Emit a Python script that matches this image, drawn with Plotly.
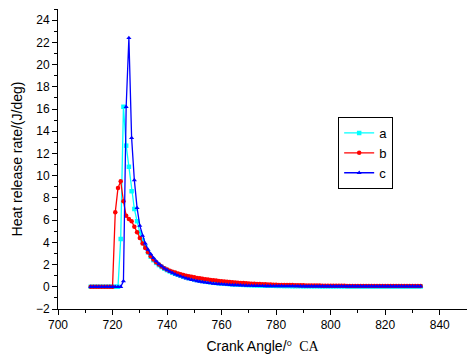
import plotly.graph_objects as go

crank_angle = list(range(712, 834))

series_a = [0]*11 + [
    4.3, 16.2, 12.7, 10.8, 8.6, 7.0, 5.9, 4.9, 4.2, 3.6,
    3.1, 2.7, 2.4, 2.15, 1.95, 1.78, 1.63, 1.5, 1.38, 1.27,
    1.17, 1.08, 1.0, 0.92, 0.85, 0.78, 0.72, 0.66, 0.61, 0.56,
    0.52, 0.48, 0.44, 0.41, 0.38, 0.35, 0.32, 0.30, 0.28, 0.26,
    0.24, 0.22, 0.21, 0.19, 0.18, 0.17, 0.16, 0.15, 0.14, 0.13,
    0.12, 0.11, 0.11, 0.10, 0.10, 0.09, 0.09, 0.08,
    0.08, 0.08, 0.07, 0.07, 0.07, 0.06, 0.06, 0.06, 0.06, 0.05,
    0.05, 0.05, 0.05, 0.05, 0.05, 0.04, 0.04, 0.04, 0.04, 0.04,
    0.04, 0.04, 0.04, 0.04, 0.04, 0.03, 0.03, 0.03, 0.03, 0.03,
    0.03, 0.03, 0.03, 0.03, 0.03, 0.03, 0.03, 0.03, 0.03, 0.03,
    0.03, 0.03, 0.03, 0.03, 0.03, 0.03, 0.03, 0.03, 0.03, 0.03,
    0.03, 0.03, 0.03,
]

series_b = [0]*9 + [
    6.7, 8.9, 9.5, 7.7, 6.4, 6.1, 5.9, 5.4, 4.9, 4.4,
    3.9, 3.5, 3.1, 2.75, 2.45, 2.2, 2.0, 1.82, 1.67, 1.55,
    1.45, 1.36, 1.28, 1.2, 1.13, 1.06, 1.0, 0.95, 0.9, 0.85,
    0.8, 0.76, 0.72, 0.68, 0.65, 0.62, 0.59, 0.56, 0.53, 0.5,
    0.48, 0.45, 0.43, 0.41, 0.39, 0.37, 0.35, 0.33, 0.31, 0.3,
    0.28, 0.27, 0.26, 0.24, 0.23, 0.22, 0.21, 0.2, 0.19, 0.18,
    0.17, 0.17, 0.16, 0.16, 0.15, 0.15, 0.14, 0.14, 0.13, 0.13,
    0.12, 0.12, 0.12, 0.11, 0.11, 0.11, 0.10, 0.10, 0.10, 0.10,
    0.09, 0.09, 0.09, 0.09, 0.09, 0.08, 0.08, 0.08, 0.08, 0.08,
    0.08, 0.08, 0.07, 0.07, 0.07, 0.07, 0.07, 0.07, 0.07, 0.07,
    0.07, 0.07, 0.07, 0.07, 0.07, 0.06, 0.06, 0.06, 0.06, 0.06,
    0.06, 0.06, 0.06,
]

series_c = [0]*12 + [
    0.5, 16.2, 22.4, 13.4, 9.6, 7.1, 5.5, 4.6, 3.9, 3.35,
    2.95, 2.6, 2.3, 2.05, 1.85, 1.65, 1.5, 1.36, 1.24, 1.12,
    1.02, 0.93, 0.84, 0.76, 0.69, 0.63, 0.57, 0.52, 0.47, 0.43,
    0.39, 0.35, 0.32, 0.29, 0.27, 0.25, 0.23, 0.21, 0.19, 0.18,
    0.16, 0.15, 0.14, 0.13, 0.12, 0.11, 0.10, 0.10, 0.09, 0.09,
    0.08, 0.08, 0.07, 0.07, 0.07, 0.06, 0.06, 0.06, 0.06, 0.05,
    0.05, 0.05, 0.05, 0.05, 0.05, 0.04, 0.04, 0.04, 0.04, 0.04,
    0.04, 0.04, 0.04, 0.04, 0.04, 0.04, 0.04, 0.04, 0.04, 0.04,
    0.04, 0.04, 0.04, 0.04, 0.04, 0.04, 0.04, 0.04, 0.04, 0.04,
    0.04, 0.04, 0.04, 0.04, 0.04, 0.04, 0.04, 0.04, 0.04, 0.04,
    0.04, 0.04, 0.04, 0.04, 0.04, 0.04, 0.04, 0.04, 0.04, 0.04,
]

series = [
    ("a", series_a, "#00FFFF", "square"),
    ("b", series_b, "#FF0000", "circle"),
    ("c", series_c, "#0000FF", "triangle-up"),
]

font_family = "Arial, Liberation Sans, sans-serif"

fig = go.Figure()
for name, vals, color, symbol in series:
    fig.add_trace(go.Scatter(
        x=crank_angle[:len(vals)], y=vals, name=name, mode="lines+markers",
        line=dict(color=color, width=1.3),
        marker=dict(color=color, symbol=symbol, size=4.5),
    ))

fig.update_layout(
    width=467, height=358,
    margin=dict(l=58, r=0, t=9, b=49),
    paper_bgcolor="white", plot_bgcolor="white",
    font=dict(family=font_family, color="black", size=12),
    showlegend=True,
    legend=dict(
        x=0.685, y=0.64, xanchor="left", yanchor="top",
        bordercolor="black", borderwidth=1, bgcolor="white",
        font=dict(size=13), itemwidth=30, tracegroupgap=0,
    ),
    xaxis=dict(
        range=[700, 850], dtick=20, tick0=700, automargin=False,
        showline=True, linecolor="black", linewidth=1,
        ticks="outside", ticklen=5, tickcolor="black",
        minor=dict(dtick=10, ticks="outside", ticklen=3, tickcolor="black"),
        showgrid=False, zeroline=False,
        title=dict(text="Crank Angle/<span style='font-family:Liberation Serif, serif'>°  CA</span>",
                   font=dict(size=14), standoff=9),
    ),
    yaxis=dict(
        range=[-2, 25], dtick=2, tick0=0, automargin=False,
        showline=True, linecolor="black", linewidth=1,
        ticks="outside", ticklen=5, tickcolor="black",
        minor=dict(dtick=1, ticks="outside", ticklen=3, tickcolor="black"),
        showgrid=False, zeroline=False,
        title=dict(text="Heat release rate/(J/deg)", font=dict(size=14), standoff=10),
    ),
)

fig.write_html(
    "out.html",
    config={"displayModeBar": False},
    post_script="document.body.style.margin='0';document.body.style.overflow='hidden';",
)
